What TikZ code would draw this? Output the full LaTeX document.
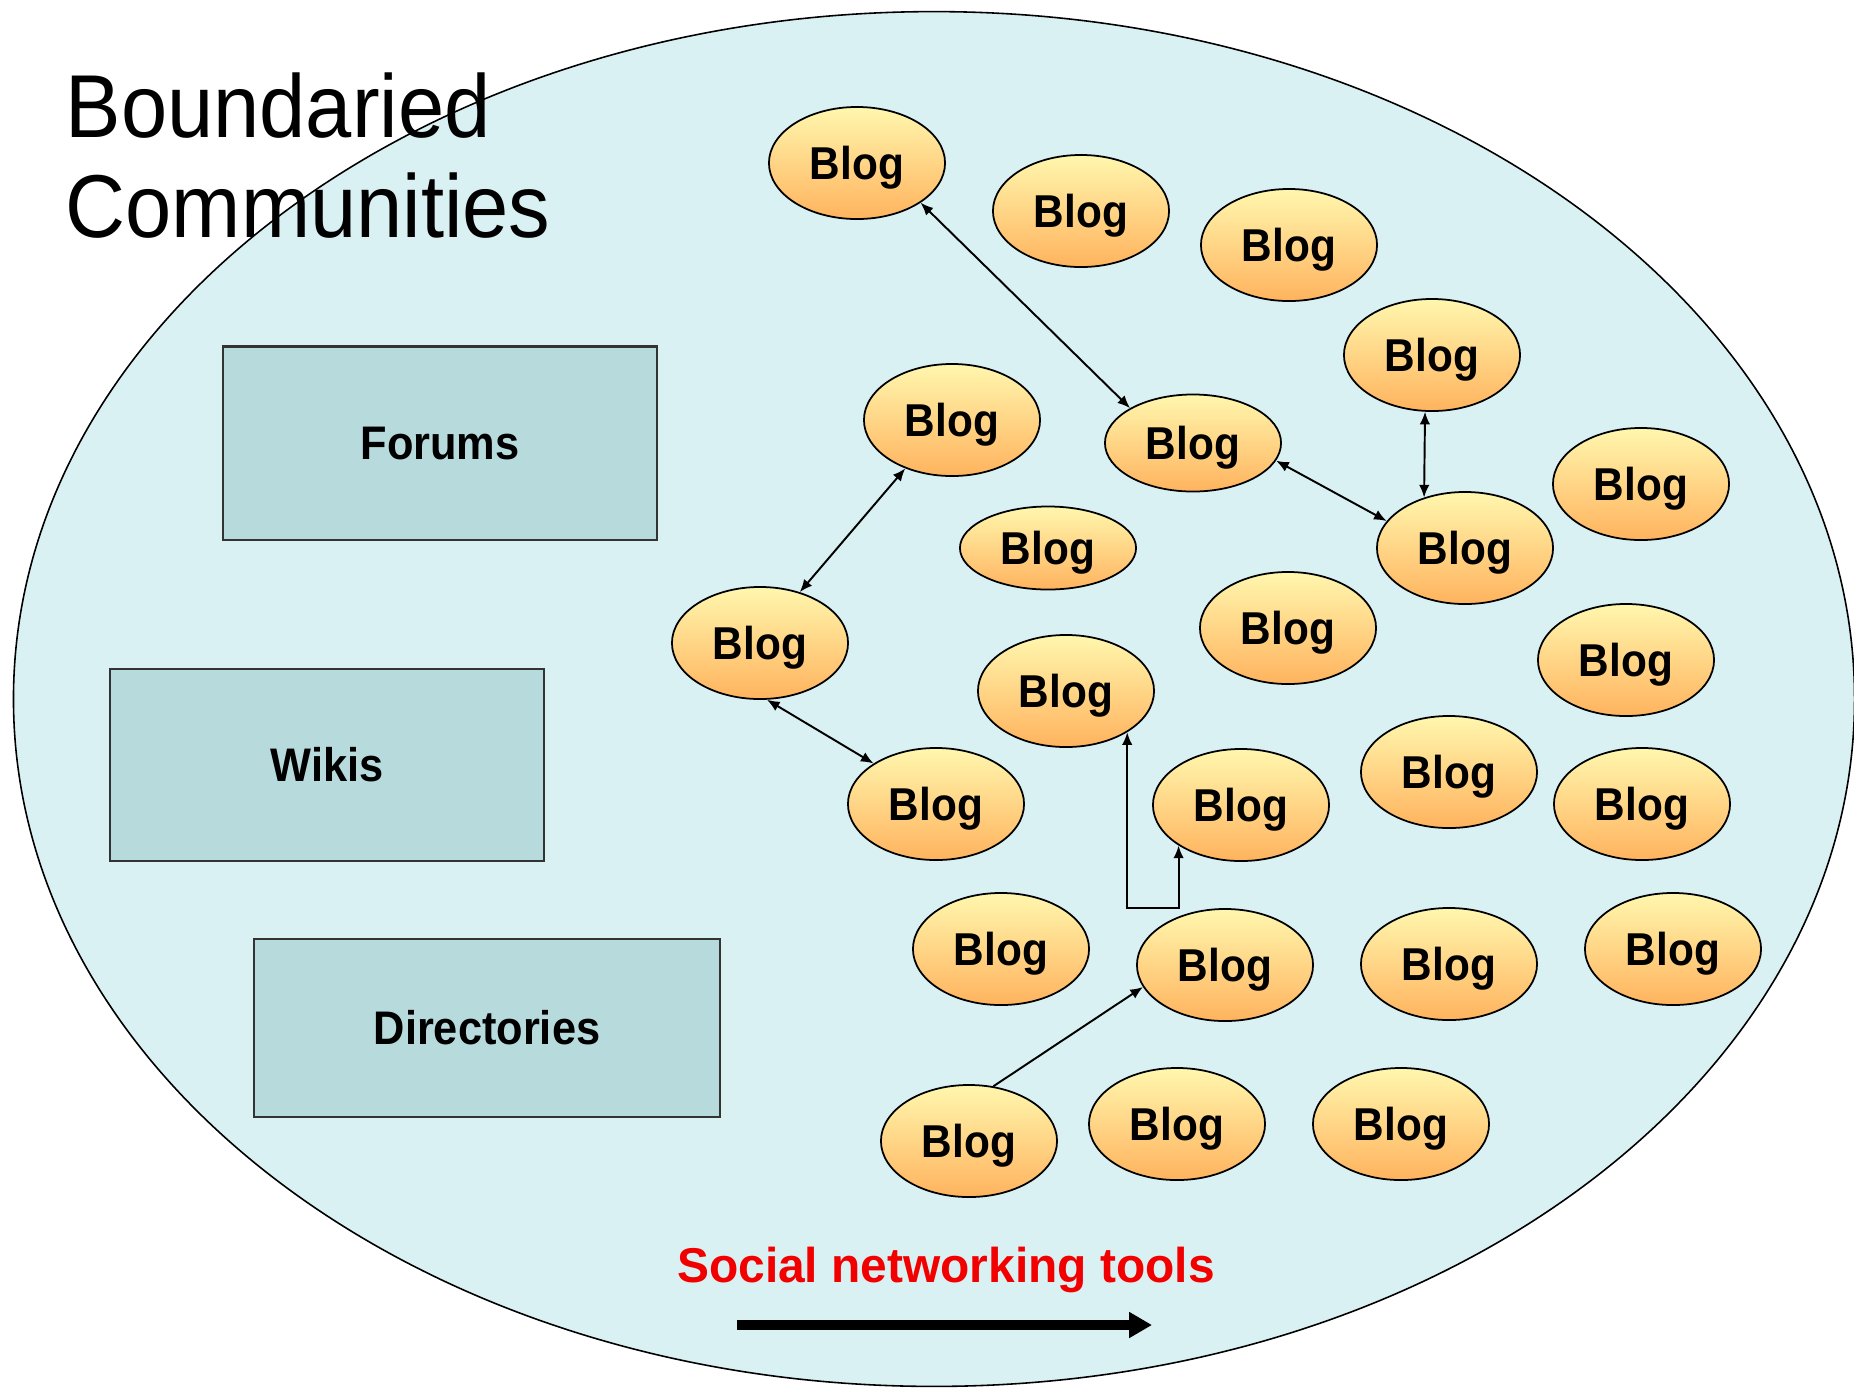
\documentclass[tikz,border=0pt]{standalone}
\usepackage{fontspec}
\setmainfont{Liberation Sans}
\newfontfamily\titlefont[FakeStretch=0.93]{Liberation Sans}
\newfontfamily\boldfont[FakeStretch=0.92]{Liberation Sans}
\newfontfamily\redfont[FakeStretch=0.98]{Liberation Sans}
\usetikzlibrary{shapes.geometric,arrows.meta}
\definecolor{bgell}{HTML}{DAF1F4}
\definecolor{boxfill}{HTML}{B7DADD}
\definecolor{blogtop}{HTML}{FFF7AE}
\definecolor{blogbot}{HTML}{FFB35E}
\definecolor{redtext}{HTML}{F20000}
\tikzset{
  blog/.style={ellipse, draw=black, line width=0.5pt, top color=blogtop, bottom color=blogbot,
    minimum width=1.76cm, minimum height=1.12cm, inner sep=0pt,
    font=\boldfont\bfseries\fontsize{13.1}{15}\selectfont, text height=9.4pt, text depth=0pt},
  boxnode/.style={rectangle, draw=black!80, line width=0.6pt, fill=boxfill, inner sep=0pt,
    font=\boldfont\bfseries\fontsize{13.4}{15}\selectfont, text height=9.6pt, text depth=0pt},
  titletext/.style={anchor=base west, inner sep=0pt, font=\titlefont\fontsize{25.4}{30}\selectfont},
  link/.style={{Latex[length=3.6pt,width=3pt]}-{Latex[length=3.6pt,width=3pt]}, line width=0.55pt},
  oneway/.style={-{Latex[length=3.6pt,width=3pt]}, line width=0.55pt}
}
\begin{document}
\begin{tikzpicture}[x=0.01cm,y=-0.01cm]
\useasboundingbox (0,0) rectangle (1854,1387);
\fill[white] (0,0) rectangle (1854,1387);
\node[ellipse, draw=black, line width=0.45pt, fill=bgell, minimum width=18.4cm, minimum height=13.74cm, inner sep=0pt] (world) at (934,699) {};

\node[titletext] (t1) at (65,137) {Boundaried};
\node[titletext] (t2) at (65,237) {Communities};

\node[boxnode, minimum width=4.33cm, minimum height=1.93cm] (forums) at (440,443) {Forums};
\node[boxnode, minimum width=4.34cm, minimum height=1.92cm] (wikis) at (327,765) {Wikis};
\node[boxnode, minimum width=4.66cm, minimum height=1.78cm] (dirs) at (487,1028) {Directories};

\node[blog] (b1) at (857,163) {Blog};
\node[blog] (b2) at (1081,211) {Blog};
\node[blog] (b3) at (1289,245) {Blog};
\node[blog] (b4) at (1432,355) {Blog};
\node[blog] (b5) at (952,420) {Blog};
\node[blog, minimum height=0.97cm] (b6) at (1193,443) {Blog};
\node[blog] (b7) at (1641,484) {Blog};
\node[blog, minimum height=0.83cm] (b8) at (1048,548) {Blog};
\node[blog] (b9) at (1465,548) {Blog};
\node[blog] (b10) at (760,643) {Blog};
\node[blog] (b11) at (1288,628) {Blog};
\node[blog] (b12) at (1626,660) {Blog};
\node[blog] (b13) at (1066,691) {Blog};
\node[blog] (b14) at (1241,805) {Blog};
\node[blog] (b15) at (1449,772) {Blog};
\node[blog] (b16) at (1642,804) {Blog};
\node[blog] (b17) at (936,804) {Blog};
\node[blog] (b18) at (1001,949) {Blog};
\node[blog] (b19) at (1225,965) {Blog};
\node[blog] (b20) at (1449,964) {Blog};
\node[blog] (b21) at (1673,949) {Blog};
\node[blog] (b22) at (969,1141) {Blog};
\node[blog] (b23) at (1177,1124) {Blog};
\node[blog] (b24) at (1401,1124) {Blog};

\draw[link] (b1.-32) -- (b6.151);
\draw[link] (b4.-97) -- (b9.129);
\draw[link] (b6.-12) -- (b9.161);
\draw[link] (b5.-134) -- (b10.52);
\draw[link] (b10.-83) -- (b17.147);
\coordinate (elb) at (1150,908);
\draw[link] (b13.-34) -- (b13.-34 |- elb) -| (b14.-147);
\draw[oneway] (b22.66) -- (b19.-165);

\node[anchor=base, inner sep=0pt, text=redtext, font=\redfont\bfseries\fontsize{13.9}{16}\selectfont] (social) at (946,1282) {Social networking tools};
\coordinate (arrS) at (737,1325);
\coordinate (arrE) at (1152,1325);
\draw[line width=2.85pt, -{Triangle[length=6.5pt,width=7pt]}] (arrS) -- (arrE);
\end{tikzpicture}
\end{document}
